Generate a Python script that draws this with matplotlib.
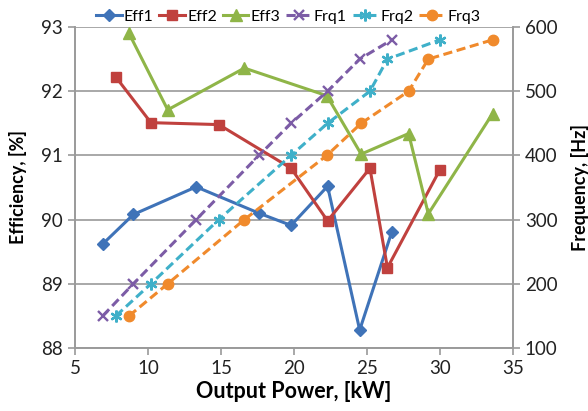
import matplotlib
matplotlib.use("Agg")
import matplotlib.pyplot as plt

plt.rcParams['font.family'] = ['Lato', 'DejaVu Sans']

# efficiency curves (left axis, %)
eff1_x = [6.9, 9.0, 13.3, 17.6, 19.8, 22.3, 24.5, 26.7]
eff1_y = [89.62, 90.08, 90.51, 90.1, 89.91, 90.52, 88.28, 89.81]
eff2_x = [7.8, 10.2, 14.85, 19.8, 22.3, 25.2, 26.4, 30.0]
eff2_y = [92.22, 91.51, 91.48, 90.8, 89.98, 90.8, 89.25, 90.78]
eff3_x = [8.7, 11.35, 16.6, 22.25, 24.6, 27.85, 29.2, 33.6]
eff3_y = [92.9, 91.71, 92.36, 91.93, 91.02, 91.34, 90.09, 91.65]

# switching frequency (right axis, Hz)
frq1_x = eff1_x
frq1_y = [150, 200, 300, 400, 450, 500, 550, 580]
frq2_x = eff2_x
frq2_y = [150, 200, 300, 400, 450, 500, 550, 580]
frq3_x = eff3_x
frq3_y = [150, 200, 300, 400, 450, 500, 550, 580]

x_ticks = [5, 10, 15, 20, 25, 30, 35]
eff_ticks = [88, 89, 90, 91, 92, 93]
frq_ticks = [100, 200, 300, 400, 500, 600]

gray = '#9a9a9a'

fig = plt.figure(figsize=(5.88, 4.11), dpi=100)
ax = fig.add_axes([75 / 588, 1 - 348 / 411, 438 / 588, 321 / 411])
ax2 = ax.twinx()

lw = 2.2
l1, = ax.plot(eff1_x, eff1_y, color='#3f73b8', lw=lw, marker='D', ms=6, label='Eff1')
l2, = ax.plot(eff2_x, eff2_y, color='#c0413e', lw=lw, marker='s', ms=7.5, label='Eff2')
l3, = ax.plot(eff3_x, eff3_y, color='#8fb548', lw=lw, marker='^', ms=8, label='Eff3')

dash = (3.0, 1.5)
l4, = ax2.plot(frq1_x, frq1_y, color='#7c5ca6', lw=lw, ls='--', dashes=dash,
               marker='x', ms=7.5, mew=1.7, label='Frq1')
l5, = ax2.plot(frq2_x, frq2_y, color='#3fb0c9', lw=lw, ls='--', dashes=dash,
               marker=(6, 2, 0), ms=8.5, mew=1.7, label='Frq2')
l6, = ax2.plot(frq3_x, frq3_y, color='#f08a2c', lw=lw, ls='--', dashes=dash,
               marker='o', ms=7.5, label='Frq3')

ax.set_xlim(5, 35)
ax.set_ylim(88, 93)
ax2.set_ylim(100, 600)
ax.set_xticks(x_ticks)
ax.set_yticks(eff_ticks)
ax2.set_yticks(frq_ticks)

ax.grid(axis='y', color=gray, lw=1.2)
ax.set_axisbelow(True)

for a in (ax, ax2):
    for s in a.spines.values():
        s.set_color(gray)
        s.set_linewidth(1.2)
    a.spines['top'].set_visible(False)
    a.tick_params(colors=gray, labelcolor='#222222', labelsize=13.5,
                  length=5, width=1.2, direction='out')

ax.set_xlabel('Output Power, [kW]', fontsize=15.5, fontweight='bold', labelpad=3)
ax.set_ylabel('Efficiency, [%]', fontsize=13, fontweight='bold', labelpad=10)
ax2.set_ylabel('Frequency, [Hz]', fontsize=13, fontweight='bold', labelpad=10)

fig.legend(handles=[l1, l2, l3, l4, l5, l6], loc='upper center',
           bbox_to_anchor=(0.49, 1.012), ncol=6, frameon=False, fontsize=11.5,
           handlelength=1.6, handletextpad=0.15, columnspacing=0.35)

fig.savefig('out.png', dpi=100)
